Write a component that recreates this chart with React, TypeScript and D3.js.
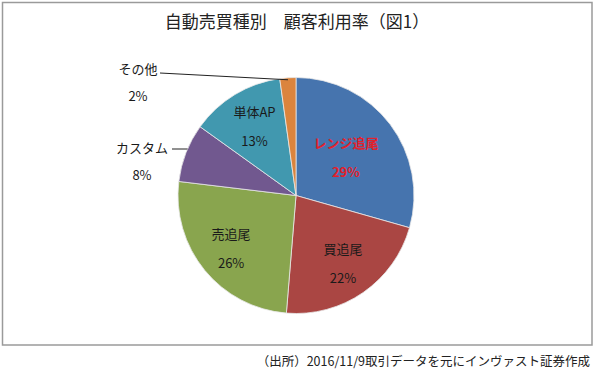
import { useEffect, useRef } from 'react';
import * as d3 from 'd3';

const categories = ['レンジ追尾', '買追尾', '売追尾', 'カスタム', '単体AP', 'その他'];
const values = [29.4, 21.9, 25.6, 8.0, 12.9, 2.2];
const pctLabels = ['29%', '22%', '26%', '8%', '13%', '2%'];
const colors = ['#4674AE', '#AA4643', '#89A54E', '#71588F', '#4198AF', '#DB843D'];

const W = 595;
const H = 373;

export default function App() {
  const svgRef = useRef<SVGSVGElement>(null);

  useEffect(() => {
    if (!svgRef.current) return;
    const svg = d3.select(svgRef.current);
    svg.selectAll('*').remove();

    const font = '"Noto Sans CJK JP", "Noto Sans", sans-serif';

    // chart frame
    svg.append('rect')
      .attr('x', 2.5).attr('y', 2.5)
      .attr('width', 589.5).attr('height', 342.5)
      .attr('fill', '#fff')
      .attr('stroke', '#9a9a9a')
      .attr('stroke-width', 1.5);

    svg.append('text')
      .attr('x', 297).attr('y', 28)
      .attr('text-anchor', 'middle')
      .style('font-family', font)
      .style('font-size', '17px')
      .style('fill', '#222')
      .text('自動売買種別　顧客利用率（図1）');

    const cx = 296, cy = 195.5, r = 118;
    const pie = d3.pie<number>().sort(null).value(d => d);
    const arcs = pie(values);
    const arc = d3.arc<d3.PieArcDatum<number>>().innerRadius(0).outerRadius(r);

    const g = svg.append('g').attr('transform', `translate(${cx},${cy})`);
    g.selectAll('path')
      .data(arcs)
      .enter()
      .append('path')
      .attr('d', arc)
      .attr('fill', (_d, i) => colors[i])
      .attr('stroke', '#e8e8e8')
      .attr('stroke-width', 0.8);

    // inside labels: slice index -> radius factor (excel "best fit")
    const inside: [number, number][] = [[0, 0.53], [1, 0.7], [2, 0.71], [4, 0.68]];
    inside.forEach(([i, f]) => {
      const la = d3.arc<d3.PieArcDatum<number>>().innerRadius(r * f).outerRadius(r * f);
      const [lx, ly] = la.centroid(arcs[i]);
      const red = i === 0;
      const t = g.append('text')
        .attr('text-anchor', 'middle')
        .style('font-family', font)
        .style('font-size', '13px')
        .style('font-weight', red ? 'bold' : 'normal')
        .style('fill', red ? '#E3202B' : '#1a1a1a');
      t.append('tspan').attr('x', lx).attr('y', ly - 9.5).text(categories[i]);
      t.append('tspan').attr('x', lx).attr('y', ly + 19.5).text(pctLabels[i]);
    });

    // outside labels with leader lines
    const outside = [
      { i: 3, x: 142, y: 153, lx1: 172, ly1: 149, flat: true },
      { i: 5, x: 138, y: 74, lx1: 160, ly1: 73, flat: false },
    ];
    outside.forEach(o => {
      const t = svg.append('text')
        .attr('text-anchor', 'middle')
        .style('font-family', font)
        .style('font-size', '13px')
        .style('fill', '#1a1a1a');
      t.append('tspan').attr('x', o.x).attr('y', o.y).text(categories[o.i]);
      t.append('tspan').attr('x', o.x).attr('y', o.y + 27).text(pctLabels[o.i]);
      let ex: number, ey: number;
      if (o.flat) {
        ey = o.ly1;
        ex = cx - Math.sqrt(r * r - (ey - cy) * (ey - cy));
      } else {
        const a = arcs[o.i];
        const mid = (a.startAngle + a.endAngle) / 2;
        ex = cx + Math.sin(mid) * (r - 2);
        ey = cy - Math.cos(mid) * (r - 2);
      }
      svg.append('line')
        .attr('x1', o.lx1).attr('y1', o.ly1)
        .attr('x2', ex).attr('y2', ey)
        .attr('stroke', '#222')
        .attr('stroke-width', 1);
    });

    svg.append('text')
      .attr('x', 590).attr('y', 366)
      .attr('text-anchor', 'end')
      .style('font-family', font)
      .style('font-size', '12.5px')
      .style('fill', '#222')
      .text('（出所）2016/11/9取引データを元にインヴァスト証券作成');
  }, []);

  return (
    <div style={{ position: 'absolute', left: 0, top: 0 }}>
      <svg ref={svgRef} width={W} height={H} style={{ display: 'block', background: '#fff' }} />
    </div>
  );
}
